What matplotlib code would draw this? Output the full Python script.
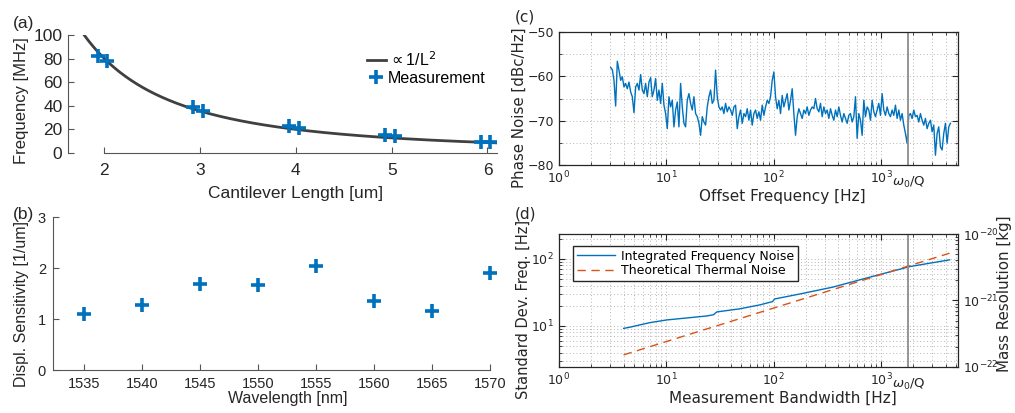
import numpy as np
import matplotlib
matplotlib.use("Agg")
import matplotlib.pyplot as plt
from matplotlib.ticker import LogLocator, NullFormatter, MultipleLocator
import matplotlib.transforms as mtransforms

# ---------------- data ----------------
# (a) resonance frequency vs cantilever length
fit_const = 320.0  # MHz * um^2   (f = A / L^2)
meas_len_um = [1.93, 2.03, 2.93, 3.03, 3.93, 4.03, 4.93, 5.03, 5.93, 6.03]
meas_freq_mhz = [82, 78, 39, 36, 23, 21.5, 15, 14, 9.5, 9]

# (b) displacement sensitivity vs wavelength
wavelength_nm = [1535, 1540, 1545, 1550, 1555, 1560, 1565, 1570]
sensitivity = [1.10, 1.27, 1.68, 1.66, 2.05, 1.35, 1.16, 1.90]

# (c) phase noise (log-spaced offset frequencies from 3.03 Hz to 4.42 kHz)
pn_f_start, pn_f_stop = 3.03, 4424.0
phase_noise_dbc = [
    -58.0, -58.5, -60.9, -66.7, -56.6, -58.6, -60.9, -60.1, -62.4, -61.6,
    -62.8, -61.3, -63.5, -64.6, -68.2, -62.4, -61.6, -63.1, -59.6, -63.1,
    -63.9, -61.6, -64.6, -61.3, -60.3, -64.6, -63.1, -60.5, -65.4, -63.1,
    -66.1, -61.6, -66.5, -68.4, -71.8, -64.6, -66.9, -65.4, -71.4, -67.6,
    -65.8, -71.4, -61.6, -66.9, -70.6, -71.4, -65.4, -63.9, -66.1, -67.6,
    -64.6, -68.4, -69.1, -70.6, -73.3, -69.1, -70.3, -71.0, -66.9, -64.6,
    -63.1, -66.1, -65.4, -58.6, -64.6, -66.9, -67.6, -66.9, -68.4, -66.1,
    -68.0, -66.9, -67.6, -68.8, -66.9, -66.5, -71.8, -69.1, -67.6, -70.6,
    -68.4, -69.1, -67.3, -69.9, -67.6, -71.0, -68.4, -67.6, -69.5, -68.0,
    -69.9, -66.5, -68.8, -66.9, -65.4, -66.1, -64.6, -60.9, -59.0, -64.6,
    -67.3, -65.4, -68.4, -64.3, -66.9, -65.4, -63.9, -67.6, -65.4, -62.8,
    -68.4, -73.3, -69.1, -67.3, -68.4, -69.5, -67.6, -68.4, -66.9, -68.8,
    -67.6, -66.9, -67.3, -65.0, -67.3, -68.0, -66.1, -69.1, -66.9, -68.4,
    -67.6, -69.5, -67.3, -68.8, -69.9, -67.6, -69.1, -66.9, -68.8, -70.3,
    -68.4, -69.5, -70.6, -68.8, -68.4, -70.3, -69.1, -64.6, -74.0, -68.4,
    -69.9, -73.3, -65.4, -69.1, -66.9, -67.6, -69.9, -65.4, -68.0, -69.1,
    -67.6, -66.1, -68.8, -63.9, -67.6, -68.8, -66.9, -68.4, -69.1, -67.6,
    -68.8, -66.5, -69.5, -67.6, -69.9, -68.4, -71.0, -72.9, -75.1, -68.8,
    -68.4, -69.5, -67.6, -69.1, -68.8, -70.3, -68.4, -69.9, -71.0, -69.5,
    -71.8, -70.6, -69.9, -72.5, -71.0, -77.8, -72.9, -71.4, -75.9, -76.6,
    -72.9, -70.6, -75.1, -71.4, -70.6,
]

# (d) integrated frequency noise vs bandwidth
bw_hz = [4.0, 4.6, 7.0, 10.1, 23.8, 27.5, 29.5, 48, 74, 97.5, 102, 175, 355, 733, 1850, 4340]
sd_freq_hz = [9.2, 9.6, 11.2, 12.3, 14.1, 14.7, 16.2, 18.0, 20.6, 23.1, 25.3, 30.0, 38.0, 52.0, 77.0, 97.0]
thermal_bw_hz = [4.0, 4340]
thermal_sd_hz = [3.7, 122]

omega_q_hz = 1800.0

BLUE = "#0072BD"
ORANGE = "#D95319"
AXC = "#262626"

fig = plt.figure(figsize=(10.15, 4.13), dpi=100)

ARIAL = ["Liberation Sans", "DejaVu Sans"]

# ---------------- (a) ----------------
axa = fig.add_axes([0.067, 0.6295, 0.4227, 0.2857])
L = np.linspace(1.55, 6.1, 300)
axa.plot(L, fit_const / L**2, color="#404040", lw=2, label=r"$\propto$1/L$^2$")
axa.plot(meas_len_um, meas_freq_mhz, "+", color=BLUE, ms=10, mew=2.6, label="Measurement",
         clip_on=False)
axa.set_xlim(1.62, 6.1)
axa.set_ylim(0, 100)
axa.set_xticks([2, 3, 4, 5, 6])
axa.set_yticks([0, 20, 40, 60, 80, 100])
for s in ["top", "right"]:
    axa.spines[s].set_visible(False)
axa.spines["bottom"].set_bounds(2, 6.1)
for s in ["left", "bottom"]:
    axa.spines[s].set_color("#555555")
axa.tick_params(direction="in", length=4, color="#555555", labelsize=12.5, labelcolor=AXC, pad=4)
axa.tick_params(axis="x", pad=7)
for t in axa.get_xticklabels() + axa.get_yticklabels():
    t.set_family(ARIAL)
axa.set_xlabel("Cantilever Length [um]", fontsize=12.5, family=ARIAL, color=AXC, labelpad=6)
axa.set_ylabel("Frequency [MHz]", fontsize=12, family=ARIAL, color=AXC, labelpad=3)
axa.xaxis.label.set_x(0.53)
axa.yaxis.label.set_y(0.44)
leg = axa.legend(loc="upper right", bbox_to_anchor=(0.995, 0.955), frameon=False,
                 prop={"family": ARIAL, "size": 11.5}, handlelength=1.2, handletextpad=0.1,
                 labelspacing=0.12, borderaxespad=0.2)
fig.text(0.013, 0.932, "(a)", fontsize=12.5, family=ARIAL, color=AXC)

# ---------------- (b) ----------------
axb = fig.add_axes([0.0522, 0.104, 0.4305, 0.370])
axb.plot(wavelength_nm, sensitivity, "+", color=BLUE, ms=10, mew=2.6, clip_on=False)
axb.set_xlim(1532.3, 1570)
axb.set_ylim(0, 3)
axb.set_xticks(wavelength_nm)
axb.set_yticks([0, 1, 2, 3])
for s in ["top", "right"]:
    axb.spines[s].set_visible(False)
for s in ["left", "bottom"]:
    axb.spines[s].set_color("#555555")
axb.tick_params(direction="in", length=4, color="#555555", labelsize=10.5, labelcolor=AXC, pad=5)
for t in axb.get_xticklabels() + axb.get_yticklabels():
    t.set_family(ARIAL)
axb.set_xlabel("Wavelength [nm]", fontsize=11.5, family=ARIAL, color=AXC, labelpad=0)
axb.set_ylabel("Displ. Sensitivity [1/um]", fontsize=11.5, family=ARIAL, color=AXC, labelpad=6)
axb.xaxis.label.set_x(0.538)
axb.yaxis.label.set_y(0.435)
fig.text(0.013, 0.47, "(b)", fontsize=12.5, family=ARIAL, color=AXC)


def style_log_axes(ax, labelsize=9):
    ax.tick_params(which="both", direction="in", top=True, right=True, color=AXC,
                   labelsize=labelsize, labelcolor=AXC)
    ax.tick_params(which="major", length=4)
    ax.tick_params(which="minor", length=2)
    for s in ax.spines.values():
        s.set_color(AXC)
        s.set_linewidth(0.9)


GRID = dict(linestyle=(0, (1, 2.5)), color="#b5b5b5", linewidth=0.7)

# ---------------- (c) ----------------
axc = fig.add_axes([0.5507, 0.6005, 0.3931, 0.322])
pn_f = np.logspace(np.log10(pn_f_start), np.log10(pn_f_stop), len(phase_noise_dbc))
axc.semilogx(pn_f, phase_noise_dbc, color=BLUE, lw=1.0)
axc.axvline(omega_q_hz, color="#8c8c8c", lw=1.3)
axc.set_xlim(1, 5200)
axc.set_ylim(-80, -50)
axc.set_yticks([-80, -70, -60, -50])
axc.yaxis.set_minor_locator(MultipleLocator(5))
axc.xaxis.set_major_locator(LogLocator(base=10, numticks=10))
axc.xaxis.set_minor_locator(LogLocator(base=10, subs=np.arange(2, 10), numticks=20))
axc.xaxis.set_minor_formatter(NullFormatter())
axc.grid(which="both", **GRID)
style_log_axes(axc)
axc.set_xlabel("Offset Frequency [Hz]", fontsize=11, color=AXC, labelpad=2)
axc.set_ylabel("Phase Noise [dBc/Hz]", fontsize=10.8, color=AXC, labelpad=0.5)
axc.xaxis.label.set_x(0.56)
axc.yaxis.label.set_y(0.43)
trc = mtransforms.blended_transform_factory(axc.transData, axc.transAxes)
axc.text(omega_q_hz, -0.155, r"$\omega_0$/Q", transform=trc, ha="center", va="baseline",
         fontsize=9.5, color=AXC)
fig.text(0.507, 0.947, "(c)", fontsize=11, color=AXC)

# ---------------- (d) ----------------
axd = fig.add_axes([0.5507, 0.1114, 0.3931, 0.322])
axd.loglog(bw_hz, sd_freq_hz, color=BLUE, lw=1.0, label="Integrated Frequency Noise")
axd.loglog(thermal_bw_hz, thermal_sd_hz, color=ORANGE, lw=1.0, ls=(0, (6, 4)),
           label="Theoretical Thermal Noise")
axd.axvline(omega_q_hz, color="#8c8c8c", lw=1.3)
axd.set_xlim(1, 5200)
axd.set_ylim(2.44, 236)
axd.xaxis.set_major_locator(LogLocator(base=10, numticks=10))
axd.xaxis.set_minor_locator(LogLocator(base=10, subs=np.arange(2, 10), numticks=20))
axd.xaxis.set_minor_formatter(NullFormatter())
axd.yaxis.set_minor_formatter(NullFormatter())
axd.grid(which="both", **GRID)
style_log_axes(axd)
axd.tick_params(which="both", right=False)
axd.set_xlabel("Measurement Bandwidth [Hz]", fontsize=11, color=AXC, labelpad=2)
axd.set_ylabel("Standard Dev. Freq. [Hz]", fontsize=10.5, color=AXC, labelpad=0.5)
axd.xaxis.label.set_x(0.56)
axd.yaxis.label.set_y(0.43)
lg = axd.legend(loc="upper left", bbox_to_anchor=(0.03, 0.93), fancybox=False,
                edgecolor=AXC, framealpha=1, fontsize=9, handlelength=3.0,
                borderpad=0.3, labelspacing=0.15, borderaxespad=0.2, handletextpad=0.5)
lg.get_frame().set_linewidth(1.0)
trd = mtransforms.blended_transform_factory(axd.transData, axd.transAxes)
axd.text(omega_q_hz, -0.155, r"$\omega_0$/Q", transform=trd, ha="center", va="baseline",
         fontsize=9.5, color=AXC)

axr = axd.twinx()
axr.set_yscale("log")
axr.set_ylim(1e-22, 1e-20)
axr.yaxis.set_minor_formatter(NullFormatter())
axr.tick_params(which="both", direction="in", color=AXC, labelsize=9, labelcolor=AXC)
axr.tick_params(which="major", length=4)
axr.tick_params(which="minor", length=2)
for s in axr.spines.values():
    s.set_visible(False)
axr.set_ylabel("Mass Resolution [kg]", fontsize=10.8, color=AXC, labelpad=-1)
axr.yaxis.label.set_y(0.55)
fig.text(0.507, 0.47, "(d)", fontsize=11, color=AXC)

fig.savefig("out.png", dpi=100)
